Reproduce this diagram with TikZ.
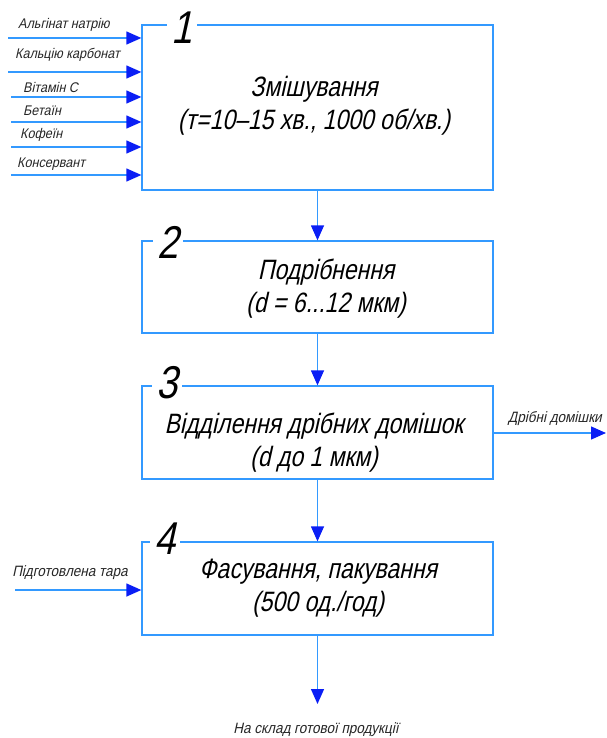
\documentclass[tikz,border=0pt]{standalone}
\usepackage{fontspec}
\usetikzlibrary{arrows.meta}
\newfontfamily\gost{Liberation Sans}[FakeSlant=0.22,FakeStretch=0.82]
\newfontfamily\gostsm{Liberation Sans}[FakeSlant=0.22,FakeStretch=0.9]
\definecolor{linec}{RGB}{51,153,255}
\definecolor{tipc}{RGB}{10,30,245}
\begin{document}
\begin{tikzpicture}[x=1pt,y=-1pt,
  box/.style={draw=linec,line width=1.3pt,inner sep=0pt},
  num/.style={fill=white,inner xsep=5pt,inner ysep=0pt,font=\gost\fontsize{46}{46}\selectfont},
  maintxt/.style={align=center,inner sep=0pt,font=\gost\fontsize{28}{33}\selectfont},
  lbl/.style={inner sep=0pt,font=\gostsm\fontsize{14}{16}\selectfont,text=black!85},
  lblb/.style={inner sep=0pt,font=\gostsm\fontsize{15}{17}\selectfont,text=black!85},
  flow/.style={draw=linec,line width=1.3pt,-{Triangle[length=15pt,width=13pt,color=tipc,fill=tipc]}}
]
\useasboundingbox (0,0) rectangle (606,738);
% boxes
\node[box,minimum width=351pt,minimum height=165pt] (b1) at (317.5,107.5) {};
\node[box,minimum width=351pt,minimum height=92pt] (b2) at (317.5,287) {};
\node[box,minimum width=351pt,minimum height=93pt] (b3) at (317.5,432.5) {};
\node[box,minimum width=351pt,minimum height=93pt] (b4) at (317.5,588.5) {};
% numbers
\node[num] (n1) at (182,28) {1};
\node[num] (n2) at (168,242) {2};
\node[num] (n3) at (167,383) {3};
\node[num] (n4) at (165,539) {4};
% texts
\node[maintxt] (t1) at (314,106) {Змішування\\(т=10–15 хв., 1000 об/хв.)};
\node[maintxt] (t2) at (326,289) {Подрібнення\\(d = 6...12 мкм)};
\node[maintxt] (t3) at (314,443) {Відділення дрібних домішок\\(d до 1 мкм)};
\node[maintxt] (t4) at (318,588) {Фасування, пакування\\(500 од./год)};
% inputs to box 1
\coordinate (s1) at (8,38);
\coordinate (s2) at (8,72);
\coordinate (s3) at (11,97);
\coordinate (s4) at (11,122);
\coordinate (s5) at (11,147);
\coordinate (s6) at (11,175);
\foreach \i in {1,...,6}{\draw[flow] (s\i) -- (s\i -| b1.west);}
\node[lbl,anchor=west] (l1) at (18,25) {Альгінат натрію};
\node[lbl,anchor=west] (l2) at (15,55) {Кальцію карбонат};
\node[lbl,anchor=west] (l3) at (23,87) {Вітамін С};
\node[lbl,anchor=west] (l4) at (23,111) {Бетаїн};
\node[lbl,anchor=west] (l5) at (20,135) {Кофеїн};
\node[lbl,anchor=west] (l6) at (17,164) {Консервант};
% vertical flow
\draw[flow] (b1.south) -- (b2.north);
\draw[flow] (b2.south) -- (b3.north);
\draw[flow] (b3.south) -- (b4.north);
\coordinate (out) at (317.5,704);
\draw[flow] (b4.south) -- (out);
\node[lblb] (lout) at (316,730) {На склад готової продукції};
% right output of box 3
\coordinate (r3) at (606,433);
\draw[flow] (r3 -| b3.east) -- (r3);
\node[lblb] (lr3) at (555,419) {Дрібні домішки};
% input to box 4
\coordinate (s7) at (15,590);
\draw[flow] (s7) -- (s7 -| b4.west);
\node[lblb] (l7) at (70,573) {Підготовлена тара};
\end{tikzpicture}
\end{document}
